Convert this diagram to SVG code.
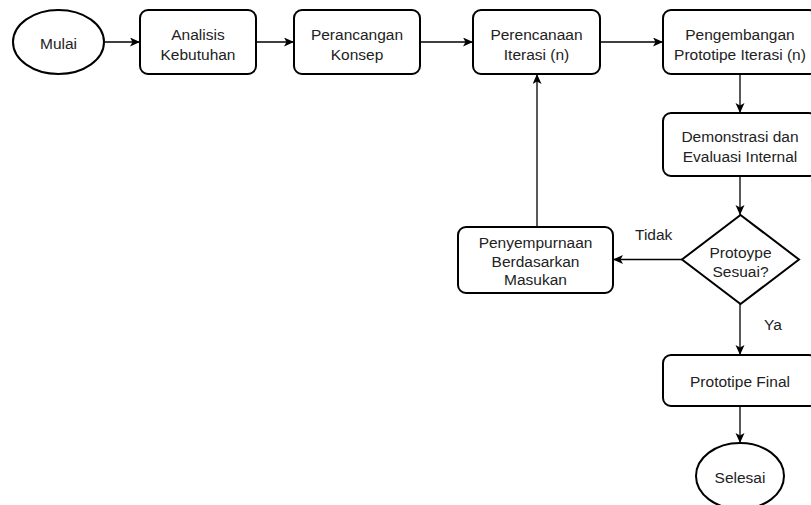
<svg xmlns="http://www.w3.org/2000/svg" width="811" height="505" viewBox="0 0 811 505">
<style>
.box{fill:#fff;stroke:#000;stroke-width:2}
.t{font-family:"Liberation Sans",Arial,sans-serif;font-size:15.5px;fill:#222;text-anchor:middle}
.lbl{font-family:"Liberation Sans",Arial,sans-serif;font-size:15.5px;fill:#222}
.c{fill:none;stroke:#000;stroke-width:1.3;marker-end:url(#arr)}
</style>
<defs>
<marker id="arr" markerUnits="userSpaceOnUse" markerWidth="11" markerHeight="10" refX="10" refY="4.5" orient="auto" viewBox="0 0 11 10">
<path d="M0,0 L10,4.5 L0,9 L2.5,4.5 Z" fill="#000"/>
</marker>
</defs>
<rect width="811" height="505" fill="#fff"/>
<g id="connectors">
<path class="c" d="M104,42 H140"/>
<path class="c" d="M256,42 H294"/>
<path class="c" d="M420,42 H473"/>
<path class="c" d="M600,42 H663"/>
<path class="c" d="M740,74 V113"/>
<path class="c" d="M740,176 V215"/>
<path class="c" d="M682,259.5 H613"/>
<path class="c" d="M537,227 V74"/>
<path class="c" d="M740,304 V355"/>
<path class="c" d="M740,406 V443"/>
</g>
<g id="mulai">
<ellipse class="box" cx="58.5" cy="42" rx="45.5" ry="32"/>
<text class="t" x="58.5" y="48.5">Mulai</text>
</g>
<g id="analisis">
<rect class="box" x="140" y="10" width="116" height="64" rx="8"/>
<text class="t" x="198" y="40">Analisis</text>
<text class="t" x="198" y="59.5">Kebutuhan</text>
</g>
<g id="perancangan">
<rect class="box" x="294" y="10" width="126" height="64" rx="8"/>
<text class="t" x="357" y="40">Perancangan</text>
<text class="t" x="357" y="59.5">Konsep</text>
</g>
<g id="perencanaan">
<rect class="box" x="473" y="10" width="127" height="64" rx="8"/>
<text class="t" x="536.5" y="40">Perencanaan</text>
<text class="t" x="536.5" y="59.5">Iterasi (n)</text>
</g>
<g id="pengembangan">
<rect class="box" x="663" y="10" width="154" height="64" rx="8"/>
<text class="t" x="740" y="40">Pengembangan</text>
<text class="t" x="740" y="59.5">Prototipe Iterasi (n)</text>
</g>
<g id="demonstrasi">
<rect class="box" x="663" y="113" width="154" height="63" rx="8"/>
<text class="t" x="740" y="142">Demonstrasi dan</text>
<text class="t" x="740" y="162">Evaluasi Internal</text>
</g>
<g id="keputusan">
<path class="box" d="M740.5,215 L799,259.5 L740.5,304 L682,259.5 Z"/>
<text class="t" x="740.5" y="257.5">Protoype</text>
<text class="t" x="740.5" y="277">Sesuai?</text>
</g>
<g id="penyempurnaan">
<rect class="box" x="458" y="227" width="155" height="66" rx="8"/>
<text class="t" x="535.5" y="248">Penyempurnaan</text>
<text class="t" x="535.5" y="266.5">Berdasarkan</text>
<text class="t" x="535.5" y="285">Masukan</text>
</g>
<g id="final">
<rect class="box" x="663" y="355" width="154" height="51" rx="8"/>
<text class="t" x="740" y="386.5">Prototipe Final</text>
</g>
<g id="selesai">
<ellipse class="box" cx="740" cy="476" rx="44" ry="33"/>
<text class="t" x="740" y="482.5">Selesai</text>
</g>
<g id="labels">
<text class="lbl" x="635" y="239.5">Tidak</text>
<text class="lbl" x="764" y="329.5">Ya</text>
</g>
</svg>
